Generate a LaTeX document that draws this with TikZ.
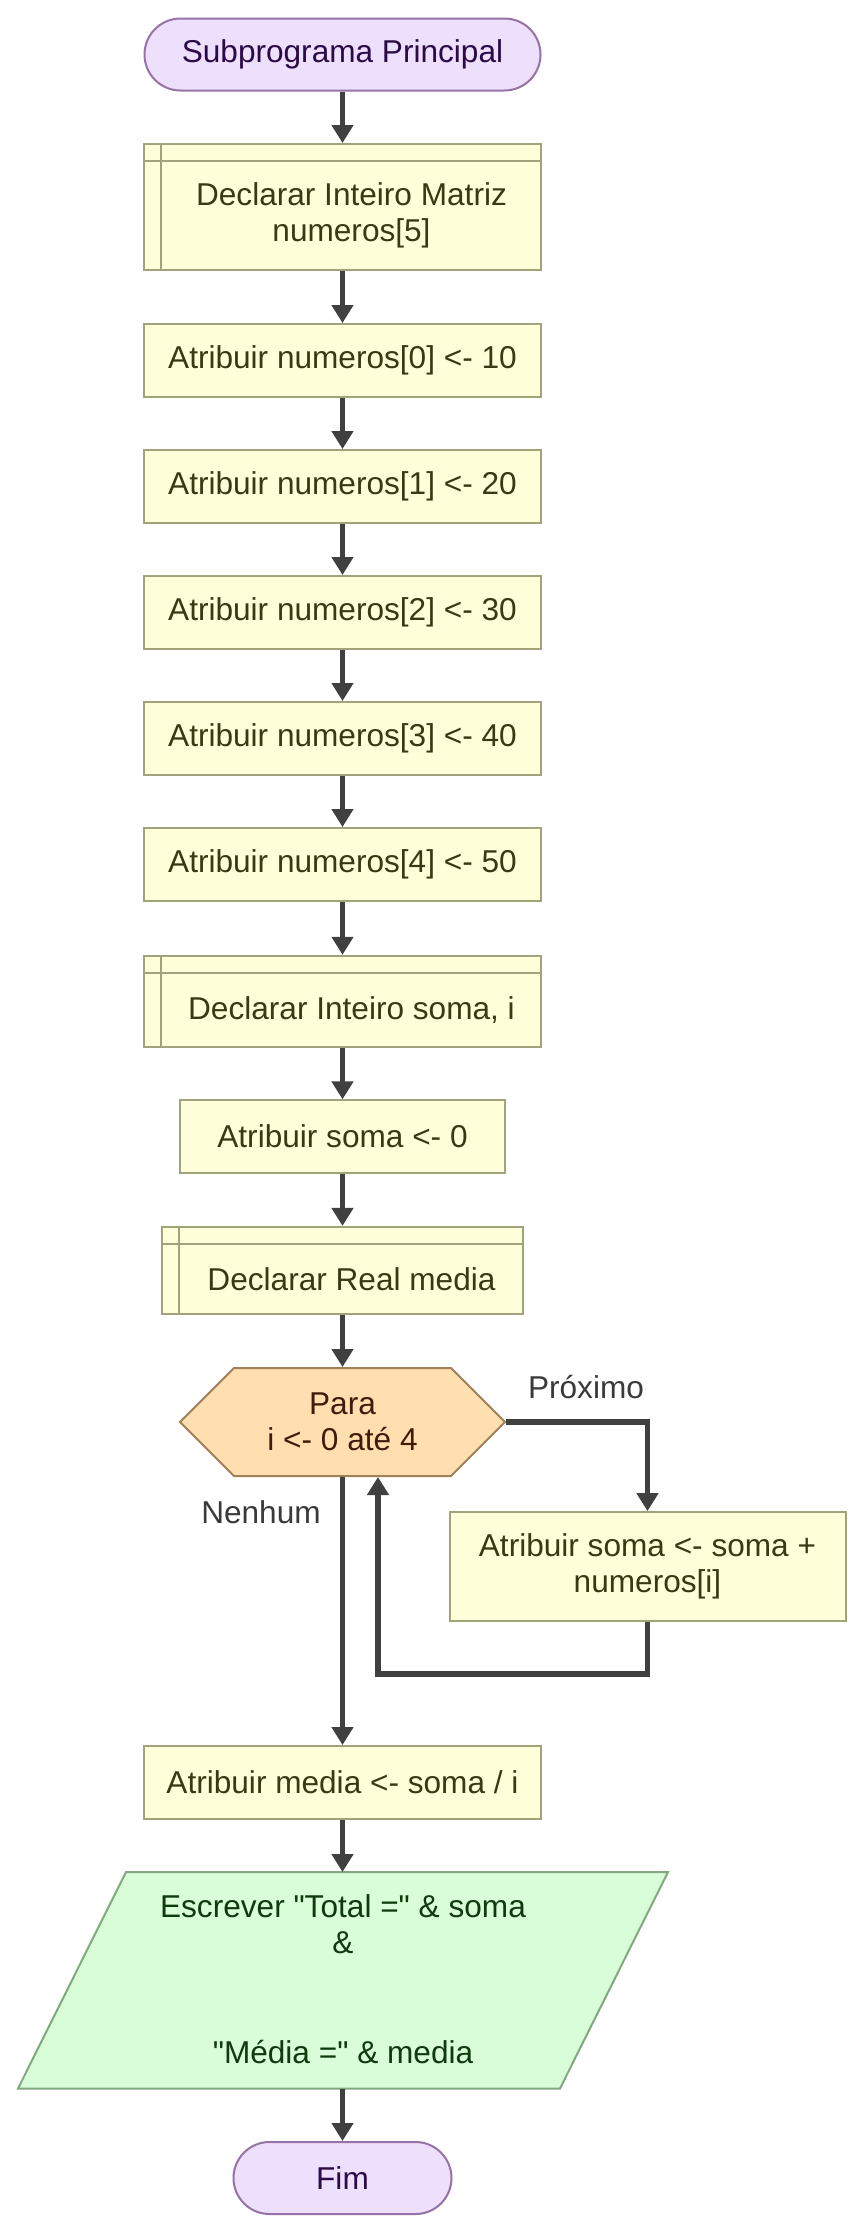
\documentclass[tikz,border=0pt]{standalone}
\usepackage{fontspec}
\setmainfont{Liberation Sans}
\usetikzlibrary{arrows.meta,shapes.symbols}

\definecolor{termfill}{HTML}{EEDFFC}
\definecolor{termline}{HTML}{9673A6}
\definecolor{termtext}{HTML}{2A0B48}
\definecolor{boxfill}{HTML}{FFFFD9}
\definecolor{boxline}{HTML}{A3A37B}
\definecolor{boxtext}{HTML}{3A3A12}
\definecolor{loopfill}{HTML}{FFDFB0}
\definecolor{loopline}{HTML}{A08057}
\definecolor{looptext}{HTML}{3F1C0A}
\definecolor{outfill}{HTML}{D8FDD8}
\definecolor{outline}{HTML}{82A882}
\definecolor{outtext}{HTML}{0E3A0E}
\definecolor{flowgray}{HTML}{404040}

\tikzset{
  term/.style={draw=termline, fill=termfill, text=termtext, line width=1pt,
    rounded corners=18pt, minimum height=36pt, inner sep=0pt},
  assign/.style={draw=boxline, fill=boxfill, text=boxtext, line width=1pt,
    minimum height=36.5pt, inner sep=0pt, align=center},
  declbox/.style={draw=boxline, fill=boxfill, line width=1pt, inner sep=0pt},
  decltext/.style={text=boxtext, inner sep=0pt, align=center},
  forloop/.style={draw=loopline, fill=loopfill, text=looptext, line width=1pt,
    signal, signal to=east and west, signal pointer angle=90,
    minimum width=162.5pt, minimum height=54pt, inner sep=0pt, align=center},
  lbl/.style={text=flowgray!90!black, inner sep=0pt},
  flow/.style={draw=flowgray, line width=2.6pt, -{Triangle[length=9pt,width=10.5pt]}}
}

\begin{document}
\begin{tikzpicture}[x=0.5pt, y=-0.5pt, font=\fontsize{15.8}{18.25}\selectfont]
	% page
	\fill[white] (0,0) rectangle (865,2233);
	
	% start
	\node[term, minimum width=198pt] (start) at (342.5,54.5) {Subprograma Principal};
	
	% declare matriz
	\node[declbox, minimum width=198.5pt, minimum height=63pt] (decl1) at (342.5,207) {};
	\node[decltext] (decl1txt) at (351.5,215.5) {Declarar Inteiro Matriz\\numeros[5]};
	
	% assignments
	\foreach \k/\v in {0/10, 1/20, 2/30, 3/40, 4/50}
	\node[assign, minimum width=198.5pt] (a\k) at (342.5, {360.5+126*\k}) {Atribuir numeros[\k] <- \v};
	
	% declare soma, i
	\node[declbox, minimum width=198.5pt, minimum height=45.5pt] (decl2) at (342.5,1001.3) {};
	\node[decltext] (decl2txt) at (351.5,1010.5) {Declarar Inteiro soma, i};
	
	\node[assign, minimum width=162.5pt, minimum height=36.25pt] (soma0) at (342.5,1136.6) {Atribuir soma <- 0};
	
	% declare media
	\node[declbox, minimum width=180.5pt, minimum height=43.7pt] (decl3) at (342.5,1270.6) {};
	\node[decltext] (decl3txt) at (351.5,1279.5) {Declarar Real media};
	
	% header bands of the declarations
	\foreach \d in {decl1, decl2, decl3}{
		\draw[boxline, line width=1pt] ([yshift=-9pt]\d.north west) -- ([yshift=-9pt]\d.north east);
		\draw[boxline, line width=1pt] ([xshift=9pt]\d.north west) -- ([xshift=9pt]\d.south west);
	}
	
	% for loop
	\node[forloop] (para) at (342.5,1422) {Para\\i <- 0 até 4};
	\node[assign, minimum width=198pt, minimum height=54.3pt] (acc) at (647.5,1566.4) {Atribuir soma <- soma +\\numeros[i]};
	\node[lbl] (prox) at (586,1387) {Próximo};
	\node[lbl] (nenhum) at (261,1512) {Nenhum};
	\coordinate (back) at (378,1674);
	
	\node[assign, minimum width=198.5pt] (media) at (342.5,1782.5) {Atribuir media <- soma / i};
	
	% output
	\draw[draw=outline, fill=outfill, line width=1pt] (126,1872) -- (668,1872) -- (560,2088.5) -- (18,2088.5) -- cycle;
	\coordinate (wrtop) at (342.5,1872);
	\coordinate (wrbot) at (342.5,2088.5);
	\node[text=outtext, inner sep=0pt, align=center] (wr) at (343,1979) {Escrever \textquotedbl Total =\textquotedbl{} \& soma\\\&\\ \\ \\\textquotedbl Média =\textquotedbl{} \& media};
	
	% end
	\node[term, minimum width=109pt] (fim) at (342.5,2178) {Fim};
	
	% connectors
	\draw[flow] (start.south) -- (decl1.north);
	\draw[flow] (decl1.south) -- (a0.north);
	\foreach \k [evaluate=\k as \j using int(\k+1)] in {0,...,3}
	\draw[flow] (a\k.south) -- (a\j.north);
	\draw[flow] (a4.south) -- (decl2.north);
	\draw[flow] (decl2.south) -- (soma0.north);
	\draw[flow] (soma0.south) -- (decl3.north);
	\draw[flow] (decl3.south) -- (para.north);
	\draw[flow] (para.east) -| (acc.north);
	\draw[flow] (acc.south) |- (back) -- (back |- para.south);
	\draw[flow] (para.south) -- (media.north);
	\draw[flow] (media.south) -- (wrtop);
	\draw[flow] (wrbot) -- (fim.north);
	
\end{tikzpicture}
\end{document}
